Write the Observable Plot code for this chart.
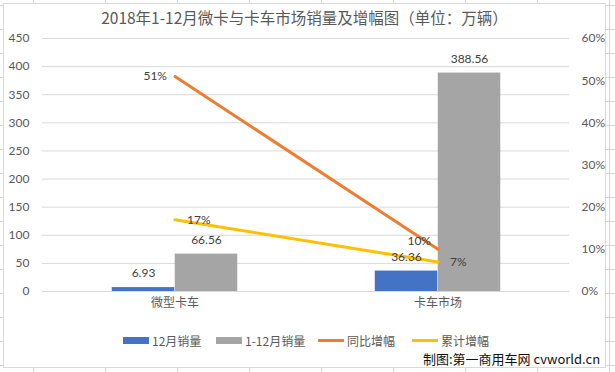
<!DOCTYPE html>
<html>
<head>
<meta charset="utf-8">
<script src="https://cdn.jsdelivr.net/npm/d3@7"></script>
<script src="https://cdn.jsdelivr.net/npm/@observablehq/plot@0.6"></script>
<style>
  html, body { margin: 0; padding: 0; }
  body {
    width: 615px; height: 372px; position: relative; overflow: hidden; background: #fff;
    background-image:
      repeating-linear-gradient(to right, transparent 0, transparent 33px, #d4d4d4 33px, #d4d4d4 34px, transparent 34px, transparent 72px),
      repeating-linear-gradient(to bottom, transparent 0, transparent 5px, #d4d4d4 5px, #d4d4d4 6px, transparent 6px, transparent 24px);
    font-family: Lato, "Noto Sans CJK SC", sans-serif;
  }
  #chart {
    position: absolute; left: 3px; top: 3px; width: 601px; height: 363px;
    border: 1px solid #d9d9d9; background: #fff;
  }
  #title {
    height: 22px; line-height: 22px; padding-top: 2px; text-align: center; font-size: 15.5px; color: #595959;
    font-family: "Noto Sans CJK SC", sans-serif; white-space: nowrap;
  }
  #legend {
    position: absolute; top: 326px; left: 0; width: 601px; height: 20px;
    font-size: 12px; color: #595959; font-family: "Noto Sans CJK SC", sans-serif;
  }
  .item { position: absolute; top: 0; height: 20px; display: flex; align-items: center; white-space: nowrap; }
  .sw { display: inline-block; width: 26px; margin-right: 3px; }
  #caption {
    position: absolute; left: 423px; top: 349px; font-size: 13px; color: #111;
    font-family: "Noto Sans CJK SC", sans-serif; white-space: nowrap;
  }
  svg { display: block; }
</style>
</head>
<body>
<div id="chart">
  <div id="title">2018年1-12月微卡与卡车市场销量及增幅图（单位：万辆）</div>
  <div id="plot"></div>
  <div id="legend"></div>
</div>
<div id="caption">制图:第一商用车网 cvworld.cn</div>
<script>
const categories = ["微型卡车", "卡车市场"];
const decSales = [6.93, 36.36];
const ytdSales = [66.56, 388.56];
const yoyGrowth = [51, 10];
const ytdGrowth = [17, 7];
const leftTicks = [0, 50, 100, 150, 200, 250, 300, 350, 400, 450];
const rightTicks = [0, 10, 20, 30, 40, 50, 60];
const seriesNames = ["12月销量", "1-12月销量", "同比增幅", "累计增幅"];
const seriesColors = ["#4472C4", "#A5A5A5", "#ED7D31", "#FFC000"];

const k = 450 / 60;
const data = categories.map((c, i) => ({
  cat: c, dec: decSales[i], ytd: ytdSales[i], yoy: yoyGrowth[i], cum: ytdGrowth[i]
}));

const bw = 63;
const half = (601 - 38 - 36) / 2 / 2;

const chart = Plot.plot({
  width: 601,
  height: 296,
  marginTop: 10,
  marginBottom: 33,
  marginLeft: 38,
  marginRight: 36,
  style: { color: "#595959", fontSize: "12px", fontFamily: "Lato, 'Noto Sans CJK SC', sans-serif", background: "transparent" },
  x: { domain: categories, padding: 0, axis: null },
  y: { domain: [0, 450], axis: null },
  marks: [
    Plot.ruleY(leftTicks, { stroke: "#d9d9d9", strokeWidth: 1 }),
    Plot.axisY({ ticks: leftTicks, anchor: "left", tickSize: 0, tickPadding: 13, fontSize: 12, fill: "#595959", label: null }),
    Plot.axisY({ ticks: rightTicks.map(t => t * k), tickFormat: d => Math.round(d / k) + "%", anchor: "right", tickSize: 0, tickPadding: 12, fontSize: 12, fill: "#595959", label: null }),
    Plot.axisX({ tickSize: 0, tickPadding: 7, fontSize: 12, fill: "#595959", fontFamily: "'Noto Sans CJK SC', sans-serif", label: null }),
    Plot.barY(data, { x: "cat", y: "dec", fill: seriesColors[0], insetLeft: half - bw, insetRight: half }),
    Plot.barY(data, { x: "cat", y: "ytd", fill: seriesColors[1], insetLeft: half, insetRight: half - bw }),
    Plot.line(data, { x: "cat", y: d => d.yoy * k, stroke: seriesColors[2], strokeWidth: 3 }),
    Plot.line(data, { x: "cat", y: d => d.cum * k, stroke: seriesColors[3], strokeWidth: 3 }),
    Plot.text(data, { x: "cat", y: "dec", text: d => d.dec.toFixed(2), dx: -bw / 2, dy: -14, fill: "#404040", fontSize: 12 }),
    Plot.text(data, { x: "cat", y: "ytd", text: d => d.ytd.toFixed(2), dx: bw / 2, dy: -14, fill: "#404040", fontSize: 12 }),
    Plot.text(data.slice(0, 1), { x: "cat", y: d => d.yoy * k, text: d => d.yoy + "%", textAnchor: "end", dx: -8, fill: "#404040", fontSize: 12 }),
    Plot.text(data.slice(1), { x: "cat", y: d => d.yoy * k, text: d => d.yoy + "%", textAnchor: "end", dx: -7, dy: -8, fill: "#404040", fontSize: 12 }),
    Plot.text(data, { x: "cat", y: d => d.cum * k, text: d => d.cum + "%", textAnchor: "start", dx: 12, fill: "#404040", fontSize: 12 })
  ]
});
document.getElementById("plot").appendChild(chart);

const legend = document.getElementById("legend");
const legendLeft = [119, 212, 314, 408];
seriesNames.forEach((name, i) => {
  const item = document.createElement("div");
  item.className = "item";
  item.style.left = legendLeft[i] + "px";
  const sw = document.createElement("span");
  sw.className = "sw";
  sw.style.height = i < 2 ? "7px" : "3px";
  sw.style.background = seriesColors[i];
  item.appendChild(sw);
  const t = document.createElement("span");
  t.textContent = name;
  item.appendChild(t);
  legend.appendChild(item);
});
</script>
</body>
</html>
